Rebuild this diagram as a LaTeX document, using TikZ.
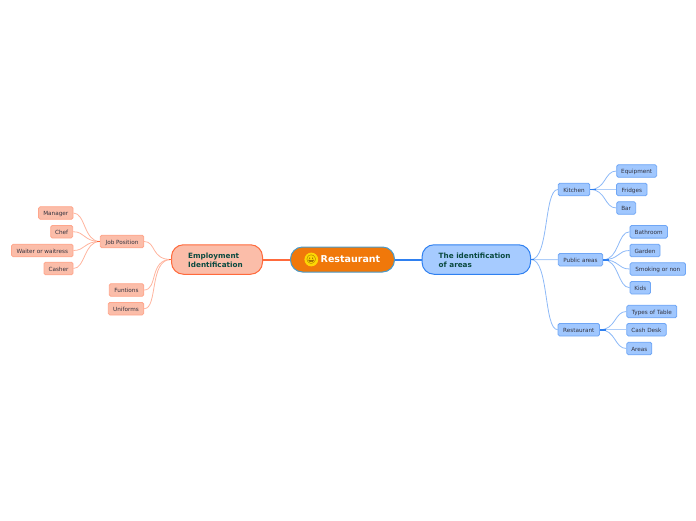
\documentclass[tikz,border=0pt]{standalone}
\usepackage{fontspec}
\setmainfont{DejaVu Sans}
\newfontfamily\emojifont{Noto Emoji}
\usetikzlibrary{calc, arrows.meta, shapes.geometric}
\definecolor{rootfill}{HTML}{F0780A}
\definecolor{rootedge}{HTML}{4A9AC8}
\definecolor{bluefill}{HTML}{A6CBFF}
\definecolor{blueedge}{HTML}{2F80F0}
\definecolor{blueleaf}{HTML}{6FA6F5}
\definecolor{bluecurve}{HTML}{8DB9F7}
\definecolor{redfill}{HTML}{FBBDA9}
\definecolor{rededge}{HTML}{FF6A3C}
\definecolor{redleaf}{HTML}{FFA68C}
\definecolor{redcurve}{HTML}{FFB49E}
\definecolor{headtext}{HTML}{0A4A40}
\definecolor{leaftext}{HTML}{33333F}
\tikzset{
  leafbox/.style={rectangle, rounded corners=1.6pt, draw, line width=0.8pt, inner sep=0pt,
    minimum height=12.6pt, text height=5pt, text depth=0pt, text=leaftext, font=\fontsize{5.7}{6.5}\selectfont},
  blueleafbox/.style={leafbox, fill=bluefill!90!blueleaf, draw=blueleaf},
  redleafbox/.style={leafbox, fill=redfill, draw=redleaf},
  headbox/.style={rectangle, rounded corners=12pt, draw, line width=1pt, inner sep=0pt,
    minimum height=29.5pt},
  headtextbox/.style={anchor=west, inner sep=0pt, align=left, text=headtext, font=\fontsize{7.25}{9.2}\selectfont\bfseries},
  bluecurveline/.style={draw=bluecurve, line width=0.8pt},
  redcurveline/.style={draw=redcurve, line width=0.8pt},
  bluestraight/.style={draw=bluecurve!70!white, line width=1pt},
  bluestub/.style={draw=blueedge, line width=1.8pt},
  redstub/.style={draw=rededge, line width=1.8pt},
}
\begin{document}
\begin{tikzpicture}[x=1pt, y=-1pt]
  \useasboundingbox (0,0) rectangle (696,520);

  \node[rectangle, rounded corners=12pt, draw=rootedge, fill=rootfill, line width=1pt,
    minimum width=104pt, minimum height=25pt] (root) at (342.5,259.5) {};
  \node[circle, fill=yellow!75!orange, minimum size=11pt, inner sep=0pt, text=black!55!orange] (face) at (311.3,259.5)
    {\fontsize{8.5}{8.5}\emojifont 😀};
  \node[anchor=west, text=white, inner sep=0pt, font=\fontsize{9.5}{12}\selectfont\bfseries] (roottext) at (320.5,259.5) {Restaurant};

  \node[headbox, fill=redfill, draw=rededge, minimum width=91pt] (emp) at (217,259.5) {};
  \node[headtextbox] (emptext) at (188,260) {Employment\\Identification};
  \node[headbox, fill=bluefill, draw=blueedge, minimum width=108.5pt] (areas) at (476.3,259.5) {};
  \node[headtextbox] (areastext) at (438.5,260) {The identification\\of areas};

  \node[redleafbox, minimum width=43.5pt] (job) at (122,241.5) {Job Position};
  \node[redleafbox, minimum width=34.5pt] (manager) at (55.8,213) {Manager};
  \node[redleafbox, minimum width=22pt] (chef) at (61.7,231.7) {Chef};
  \node[redleafbox, minimum width=61.5pt] (waiter) at (42.3,250.5) {Waiter or waitress};
  \node[redleafbox, minimum width=29pt] (cashier) at (58.5,268.5) {Casher};
  \node[redleafbox, minimum width=34.5pt] (funtions) at (126.5,290) {Funtions};
  \node[redleafbox, minimum width=35.5pt] (uniforms) at (126,308.7) {Uniforms};

  \node[blueleafbox, minimum width=31.5pt] (kitchen) at (574,189.5) {Kitchen};
  \node[blueleafbox, minimum width=40pt] (equipment) at (636.7,171) {Equipment};
  \node[blueleafbox, minimum width=30.5pt] (fridges) at (631.8,189.5) {Fridges};
  \node[blueleafbox, minimum width=19pt] (bar) at (626.2,208) {Bar};
  \node[blueleafbox, minimum width=44.5pt] (public) at (580.5,259.7) {Public areas};
  \node[blueleafbox, minimum width=37.5pt] (bathroom) at (648.7,231.8) {Bathroom};
  \node[blueleafbox, minimum width=30pt] (garden) at (645,250.5) {Garden};
  \node[blueleafbox, minimum width=55.5pt] (smoking) at (657.8,269) {Smoking or non};
  \node[blueleafbox, minimum width=20.5pt] (kids) at (640.3,287.7) {Kids};
  \node[blueleafbox, minimum width=41.5pt] (restaurant) at (578.8,329.7) {Restaurant};
  \node[blueleafbox, minimum width=50pt] (types) at (651.8,311.5) {Types of Table};
  \node[blueleafbox, minimum width=39.5pt] (cash) at (646.5,329.7) {Cash Desk};
  \node[blueleafbox, minimum width=25pt] (zones) at (639.3,348.5) {Areas};

  \draw[redstub, line width=2pt] (emp.east) -- (root.west);
  \draw[bluestub, line width=2pt] (root.east) -- (areas.west);

  \draw[redcurveline] (emp.west) .. controls +(-20,0) and +(12,0) .. (job.east);
  \draw[redcurveline] (emp.west) .. controls +(-22,0) and +(14,0) .. (funtions.east);
  \draw[redcurveline] (emp.west) .. controls +(-22,0) and +(14,0) .. (uniforms.east);
  \draw[redcurveline] (job.west) .. controls +(-16,0) and +(12,0) .. (manager.east);
  \draw[redcurveline] (job.west) .. controls +(-16,0) and +(12,0) .. (chef.east);
  \draw[redcurveline] (job.west) .. controls +(-16,0) and +(12,0) .. (waiter.east);
  \draw[redcurveline] (job.west) .. controls +(-16,0) and +(12,0) .. (cashier.east);
  \draw[redstub] (emp.west) -- +(-2,0);
  \draw[redstub] (job.west) -- +(-3,0);

  \draw[bluecurveline] (areas.east) .. controls +(18,0) and +(-14,0) .. (kitchen.west);
  \draw[bluestraight] (areas.east) -- (public.west);
  \draw[bluecurveline] (areas.east) .. controls +(18,0) and +(-14,0) .. (restaurant.west);
  \draw[bluecurveline] (kitchen.east) .. controls +(16,0) and +(-12,0) .. (equipment.west);
  \draw[bluestraight] (kitchen.east) -- (fridges.west);
  \draw[bluecurveline] (kitchen.east) .. controls +(16,0) and +(-12,0) .. (bar.west);
  \draw[bluecurveline] (public.east) .. controls +(16,0) and +(-12,0) .. (bathroom.west);
  \draw[bluecurveline] (public.east) .. controls +(16,0) and +(-12,0) .. (garden.west);
  \draw[bluecurveline] (public.east) .. controls +(16,0) and +(-12,0) .. (smoking.west);
  \draw[bluecurveline] (public.east) .. controls +(16,0) and +(-12,0) .. (kids.west);
  \draw[bluecurveline] (restaurant.east) .. controls +(16,0) and +(-12,0) .. (types.west);
  \draw[bluestraight] (restaurant.east) -- (cash.west);
  \draw[bluecurveline] (restaurant.east) .. controls +(16,0) and +(-12,0) .. (zones.west);
  \draw[bluestub] (areas.east) -- +(3,0);
  \draw[bluestub] (kitchen.east) -- +(6,0);
  \draw[bluestub] (public.east) -- +(6,0);
  \draw[bluestub] (restaurant.east) -- +(6,0);
\end{tikzpicture}
\end{document}
